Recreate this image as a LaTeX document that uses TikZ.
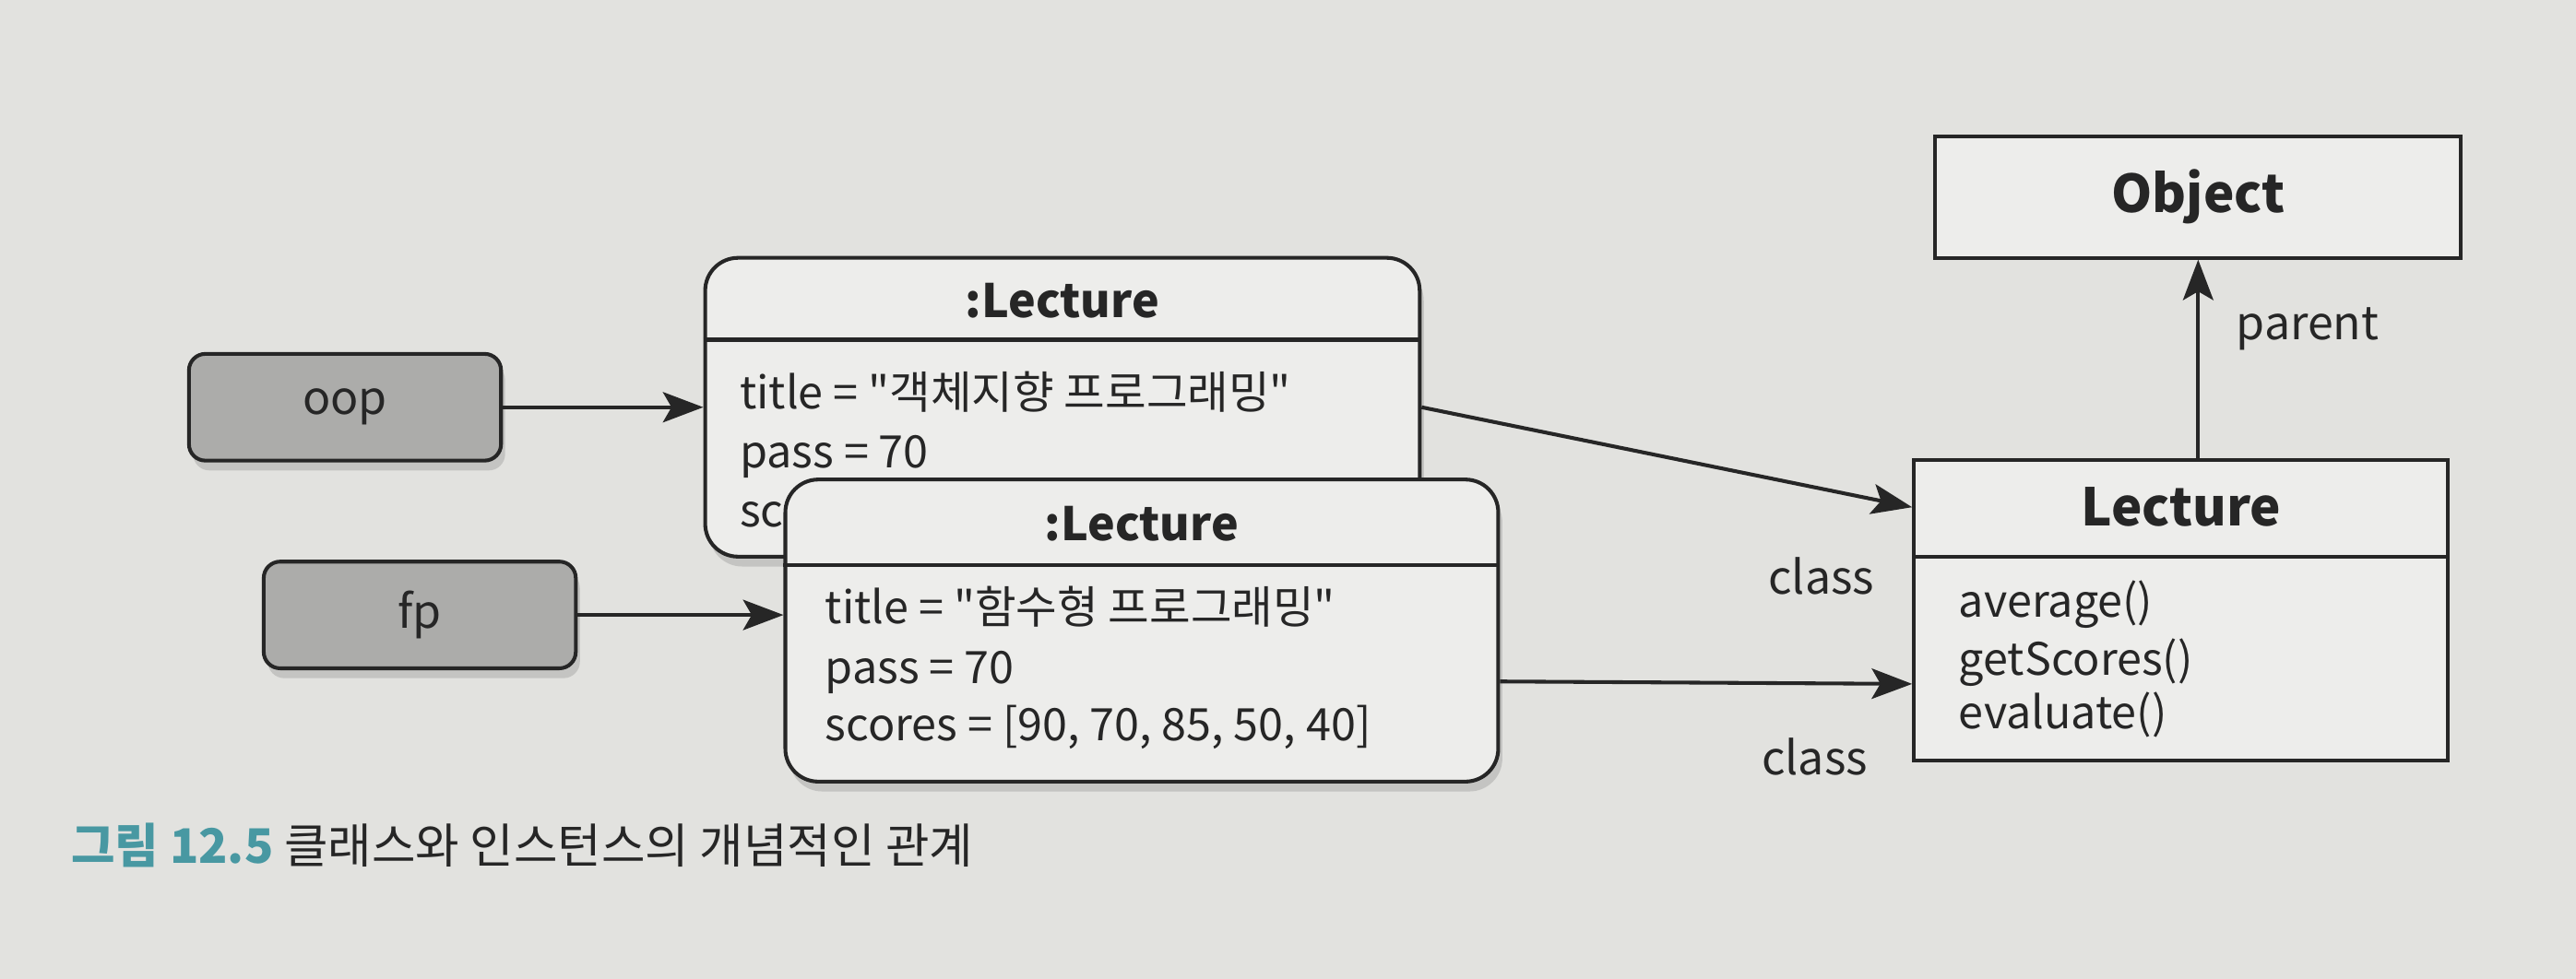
\documentclass[tikz,border=0pt]{standalone}
\usepackage{fontspec}
\newfontfamily\krfont{Noto Sans CJK KR}
\usetikzlibrary{positioning}
\usetikzlibrary{calc}
\usetikzlibrary{shadows}
\usetikzlibrary{arrows.meta}
\definecolor{paper}{RGB}{226,226,223}
\definecolor{boxfill}{RGB}{237,237,235}
\definecolor{varfill}{RGB}{172,172,170}
\definecolor{capteal}{RGB}{72,152,162}
\definecolor{ink}{RGB}{38,38,38}

\begin{document}
\begin{tikzpicture}[x=0.02cm,y=-0.02cm, text=ink,
	vnode/.style={rectangle,rounded corners=0.2cm,draw=ink,fill=varfill,line width=1.3pt,minimum width=3.8cm,minimum height=1.3cm,font=\krfont\fontsize{16}{19}\selectfont,drop shadow={opacity=.3,shadow xshift=.05cm,shadow yshift=-.12cm}},
	inode/.style={rectangle,rounded corners=0.4cm,draw=ink,fill=boxfill,line width=1.3pt,minimum width=8.7cm,minimum height=3.64cm,drop shadow={opacity=.3,shadow xshift=.05cm,shadow yshift=-.12cm}},
	knode/.style={rectangle,draw=ink,fill=boxfill,line width=1.3pt,minimum width=6.5cm},
	ihead/.style={font=\krfont\fontsize{16}{19}\selectfont\bfseries},
	khead/.style={font=\krfont\fontsize{18}{21}\selectfont\bfseries},
	field/.style={anchor=base west,inner sep=0pt,font=\krfont\fontsize{15.5}{19}\selectfont},
	lbl/.style={anchor=base west,inner sep=0pt,font=\krfont\fontsize{16}{19}\selectfont},
	sep/.style={line width=1.3pt,draw=ink},
	arr/.style={line width=1.3pt,draw=ink,-{Stealth[length=14pt,width=10.5pt,inset=3pt]}}]
		\fill[paper] (0,0) rectangle (1568,596);
		\useasboundingbox (0,0) rectangle (1568,596);
		\node[vnode] (oop) at (210,248) {oop};
		\node[vnode] (fp) at (255.5,374.5) {fp};
		\node[inode] (lecA) [right = 2.44cm of oop] {};
		\draw[sep] ($(lecA.north west)+(0,51)$) -- ($(lecA.north east)+(0,51)$);
		\node[ihead] (aHead) at ($(lecA.north)+(0,27)$) {:Lecture};
		\node[field] (aTitle) at (450,249) {title = "객체지향 프로그래밍"};
		\node[field] (aPass) at (450,285) {pass = 70};
		\node[field] (aScores) at (450,321) {sc};
		\node[inode,minimum width=8.68cm,minimum height=3.68cm] (lecB) at (695,384) {};
		\draw[sep] ($(lecB.north west)+(0,53)$) -- ($(lecB.north east)+(0,53)$);
		\node[ihead] (bHead) at ($(lecB.north)+(0,28)$) {:Lecture};
		\node[field] (bTitle) at (502,380) {title = "함수형 프로그래밍"};
		\node[field] (bPass) at (502,416) {pass = 70};
		\node[field] (bScores) at (502,451) {scores = [90, 70, 85, 50, 40]};
		\node[knode,minimum height=3.66cm] (cls) at (1327.5,371.5) {};
		\draw[sep] ($(cls.north west)+(0,60)$) -- ($(cls.north east)+(0,60)$);
		\node[khead] (clsName) at ($(cls.north)+(0,30)$) {Lecture};
		\node[field] (mAvg) at (1192,376) {average()};
		\node[field] (mGet) at (1192,411) {getScores()};
		\node[field] (mEval) at (1192,444) {evaluate()};
		\node[knode,khead,minimum width=6.4cm,minimum height=1.48cm] (objcls) at (1338,120) {Object};
		\draw[arr] (oop) -- (lecA);
		\draw[arr] (fp.east) -- (fp.east -| lecB.west);
		\draw[arr] (lecA.east) -- (cls.west |- clsName);
		\draw[arr] ($(lecB.east)+(0,31)$) -- ($(cls.west)+(0,45)$);
		\draw[arr] (objcls.south |- cls.north) -- (objcls.south);
		\node[lbl] (parLbl) at (1361,207) {parent};
		\node[lbl] (clsLblA) at (1076,362) {class};
		\node[lbl] (clsLblB) at (1072,472) {class};
		\node[anchor=base west,inner sep=0pt,font=\krfont\fontsize{16.5}{19}\selectfont] (caption) at (43,526) {{\color{capteal}\bfseries 그림 12.5}\ 클래스와 인스턴스의 개념적인 관계};
	\end{tikzpicture}
\end{document}
